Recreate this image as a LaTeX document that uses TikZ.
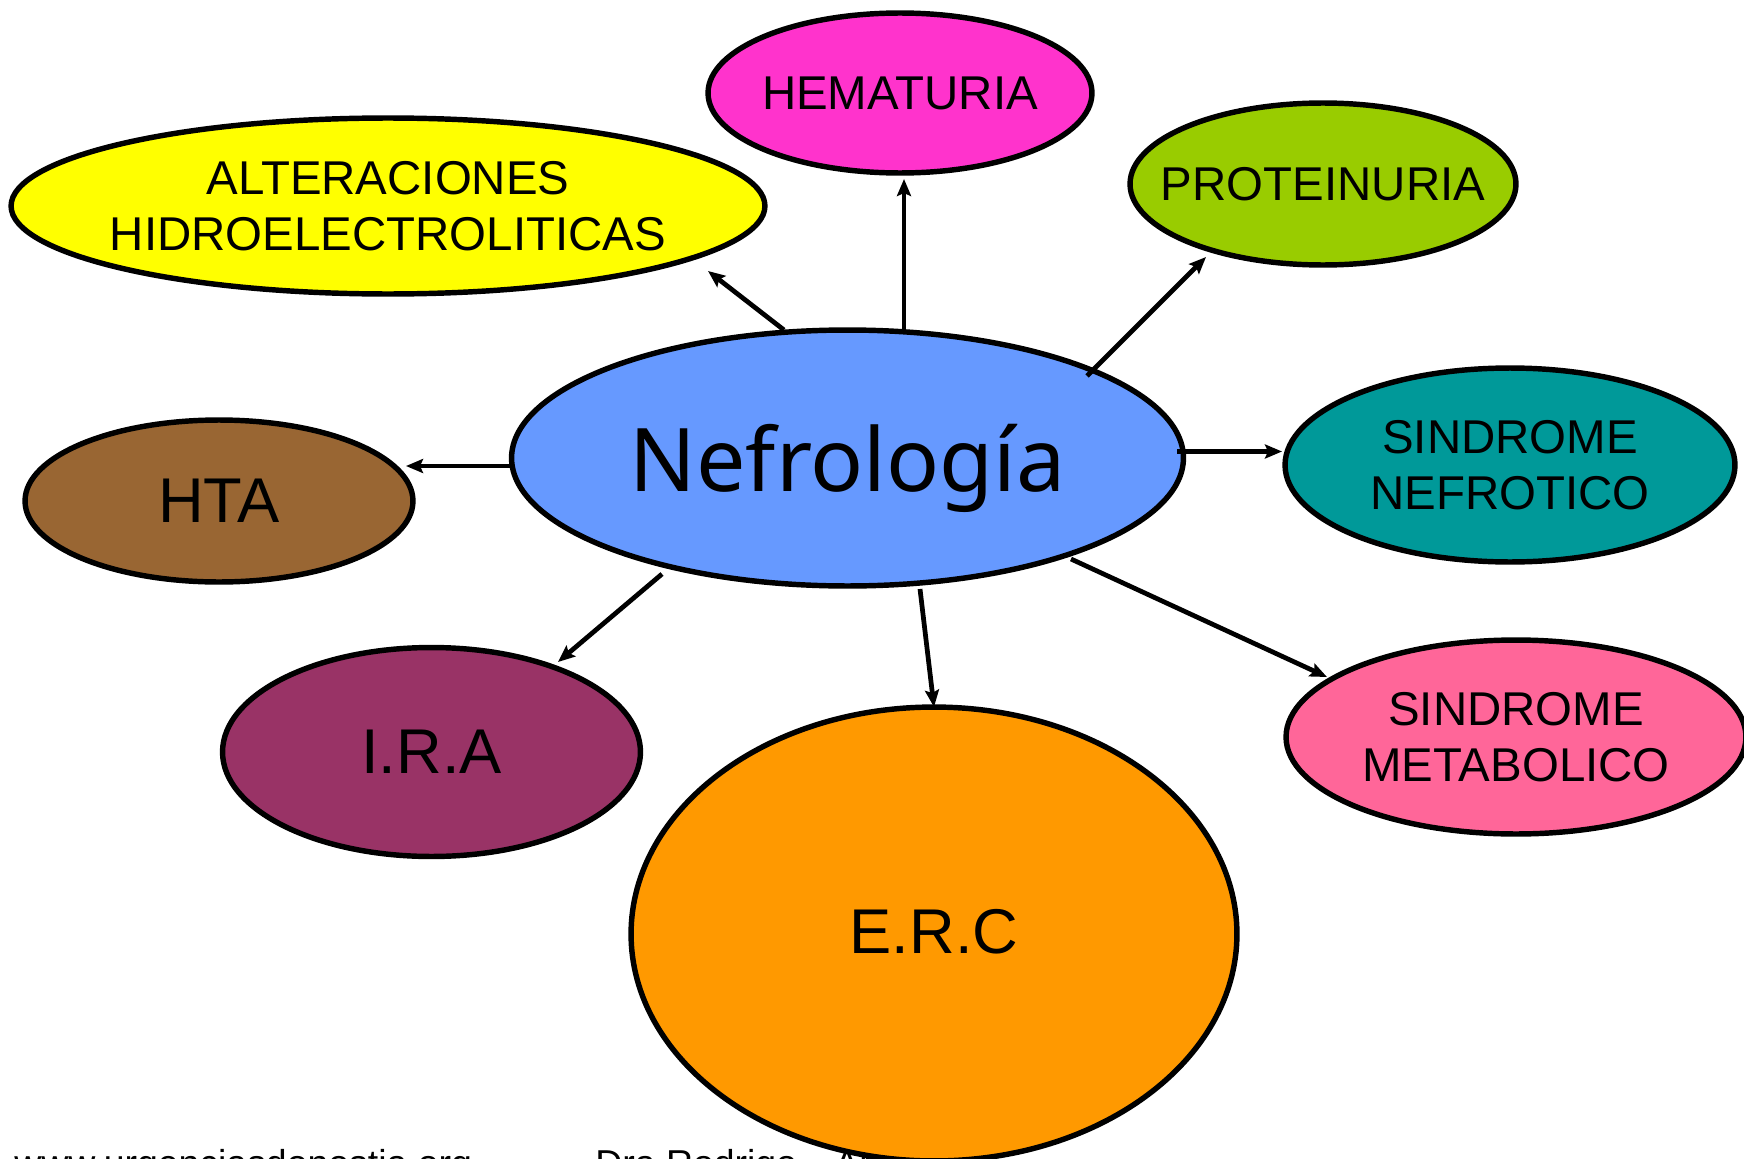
\documentclass[tikz,border=0pt]{standalone}
\usepackage{fontspec}
\setmainfont{Liberation Sans}
\newfontfamily\nefrofont{Noto Sans}
\usetikzlibrary{shapes.geometric,arrows.meta}
\definecolor{cNef}{HTML}{6699FF}
\definecolor{cHem}{HTML}{FF33CC}
\definecolor{cAlt}{HTML}{FFFF00}
\definecolor{cProt}{HTML}{99CC00}
\definecolor{cSN}{HTML}{009999}
\definecolor{cHTA}{HTML}{996633}
\definecolor{cIRA}{HTML}{993366}
\definecolor{cERC}{HTML}{FF9900}
\definecolor{cSM}{HTML}{FF6699}
\tikzset{
  ell/.style={ellipse, draw=black, line width=3.1pt, inner sep=0pt},
  txt/.style={font=\fontsize{27}{32}\selectfont, align=center, inner sep=0pt},
  big/.style={font=\fontsize{36}{40}\selectfont, inner sep=0pt},
  arr/.style={-{Stealth[length=0.34cm,width=0.28cm,inset=0.06cm]}, line width=2.7pt},
  foot/.style={font=\fontsize{21.3}{24}\selectfont, anchor=base west, inner sep=0pt}
}
\begin{document}
\begin{tikzpicture}[x=0.02cm,y=-0.02cm]
\useasboundingbox (0,0) rectangle (1744,1159);
% footer (partly hidden behind E.R.C)
\node[foot] (web) at (14,1176) {www.urgenciasdonostia.org};
\node[foot] (dra) at (595,1176) {Dra Rodrigo\quad Areitio};
% ellipses
\node[ell, fill=cAlt, minimum width=15.08cm, minimum height=3.52cm,
  label={[txt]center:ALTERACIONES\\HIDROELECTROLITICAS}] (alt) at (388,206) {};
\node[ell, fill=cHem, minimum width=7.68cm, minimum height=3.2cm,
  label={[txt]center:HEMATURIA}] (hem) at (900,93) {};
\node[ell, fill=cProt, minimum width=7.72cm, minimum height=3.24cm,
  label={[txt]center:PROTEINURIA}] (prot) at (1323,184) {};
\node[ell, fill=cNef, minimum width=13.44cm, minimum height=5.12cm,
  label={[font=\nefrofont\fontsize{50}{56}\selectfont, inner sep=0pt, yshift=-0.2cm]center:Nefrología}] (nef) at (847.5,458) {};
\node[ell, fill=cSN, minimum width=9.0cm, minimum height=3.88cm,
  label={[txt]center:SINDROME\\NEFROTICO}] (sn) at (1510,465) {};
\node[ell, fill=cHTA, minimum width=7.76cm, minimum height=3.24cm,
  label={[big]center:HTA}] (hta) at (219,501) {};
\node[ell, fill=cIRA, minimum width=8.36cm, minimum height=4.18cm,
  label={[big]center:I.R.A}] (ira) at (431.5,752) {};
\node[ell, fill=cERC, minimum width=12.12cm, minimum height=9.08cm,
  label={[big, yshift=0.04cm]center:E.R.C}] (erc) at (934,934) {};
\node[ell, fill=cSM, minimum width=9.2cm, minimum height=3.88cm,
  label={[txt]center:SINDROME\\METABOLICO}] (sm) at (1516,737) {};
% connector end points
\coordinate (sAlt) at (784,330);  \coordinate (tAlt) at (708,271);
\coordinate (sHem) at (904,330);  \coordinate (tHem) at (904,179);
\coordinate (sProt) at (1087,376); \coordinate (tProt) at (1206,257);
\coordinate (sSN) at (1177,451.5); \coordinate (tSN) at (1282,451.5);
\coordinate (sHTA) at (512,466);  \coordinate (tHTA) at (406,466);
\coordinate (sIRA) at (662,574);  \coordinate (tIRA) at (558,662);
\coordinate (sERC) at (920,589);  \coordinate (tERC) at (934,707);
\coordinate (sSM) at (1071,559);  \coordinate (tSM) at (1327,677);
\draw[arr] (sAlt) -- (tAlt);
\draw[arr] (sHem) -- (tHem);
\draw[arr] (sProt) -- (tProt);
\draw[arr] (sSN) -- (tSN);
\draw[arr] (sHTA) -- (tHTA);
\draw[arr] (sIRA) -- (tIRA);
\draw[arr] (sERC) -- (tERC);
\draw[arr] (sSM) -- (tSM);
\end{tikzpicture}
\end{document}
